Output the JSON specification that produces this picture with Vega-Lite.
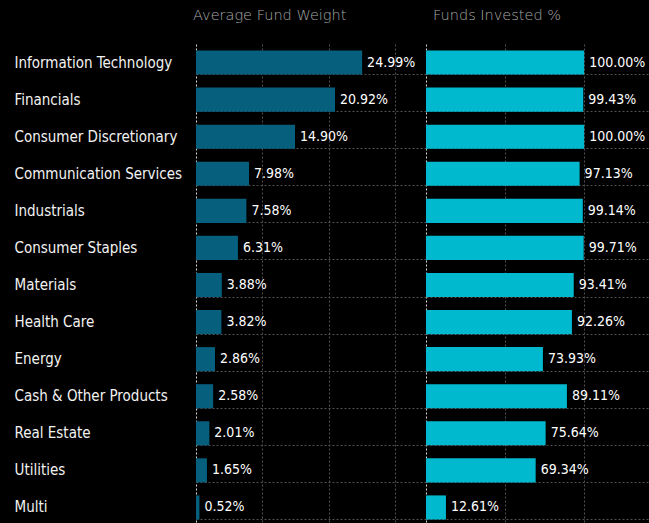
{
  "$schema": "https://vega.github.io/schema/vega-lite/v6.json",
  "background": "#000000",
  "padding": {"left": 14, "top": 7, "right": 0, "bottom": 0},
  "spacing": 0,
  "config": {
    "view": {"stroke": null},
    "font": "DejaVu Sans Condensed",
    "title": {"font": "DejaVu Sans", "fontWeight": 200, "fontSize": 14.5, "color": "#a8a8a8", "anchor": "start", "baseline": "alphabetic", "offset": 21, "frame": "group"}
  },
  "data": {
    "values": [
      {"sector": "Information Technology", "w": 24.99, "f": 100.00},
      {"sector": "Financials", "w": 20.92, "f": 99.43},
      {"sector": "Consumer Discretionary", "w": 14.90, "f": 100.00},
      {"sector": "Communication Services", "w": 7.98, "f": 97.13},
      {"sector": "Industrials", "w": 7.58, "f": 99.14},
      {"sector": "Consumer Staples", "w": 6.31, "f": 99.71},
      {"sector": "Materials", "w": 3.88, "f": 93.41},
      {"sector": "Health Care", "w": 3.82, "f": 92.26},
      {"sector": "Energy", "w": 2.86, "f": 73.93},
      {"sector": "Cash & Other Products", "w": 2.58, "f": 89.11},
      {"sector": "Real Estate", "w": 2.01, "f": 75.64},
      {"sector": "Utilities", "w": 1.65, "f": 69.34},
      {"sector": "Multi", "w": 0.52, "f": 12.61}
    ]
  },
  "transform": [
    {"calculate": "format(datum.w, '.2f') + '%'", "as": "wl"},
    {"calculate": "format(datum.f, '.2f') + '%'", "as": "fl"}
  ],
  "hconcat": [
    {
      "width": 230,
      "height": 482,
      "title": {"text": "Average Fund Weight", "dx": -3},
      "encoding": {
        "y": {
          "field": "sector", "type": "nominal",
          "sort": ["Information Technology", "Financials", "Consumer Discretionary", "Communication Services", "Industrials", "Consumer Staples", "Materials", "Health Care", "Energy", "Cash & Other Products", "Real Estate", "Utilities", "Multi"],
          "scale": {"paddingInner": 0.35, "paddingOuter": 0.175},
          "axis": {"title": null, "labelAlign": "left", "labelPadding": 182, "ticks": false, "tickSize": 0, "domain": false, "labelColor": "#f2f2f2", "labelFontSize": 15, "labelLimit": 220, "grid": true, "gridDash": [2, 2], "gridColor": "#505050", "bandPosition": 1}
        },
        "x": {
          "field": "w", "type": "quantitative",
          "scale": {"domain": [0, 34.6], "nice": false, "zero": true},
          "axis": {"title": null, "labels": false, "ticks": false, "domain": false, "grid": true, "values": [0, 10, 20, 30], "gridDash": [2, 2], "gridColor": {"condition": {"test": "datum.value === 0", "value": "#d8d8d8"}, "value": "#505050"}}
        }
      },
      "layer": [
        {"mark": {"type": "bar", "color": "#075f7e"}},
        {"mark": {"type": "text", "align": "left", "baseline": "middle", "dx": 5, "color": "#ffffff", "fontSize": 14}, "encoding": {"text": {"field": "wl"}}}
      ]
    },
    {
      "width": 223,
      "height": 482,
      "title": {"text": "Funds Invested %", "dx": 7},
      "encoding": {
        "y": {
          "field": "sector", "type": "nominal",
          "sort": ["Information Technology", "Financials", "Consumer Discretionary", "Communication Services", "Industrials", "Consumer Staples", "Materials", "Health Care", "Energy", "Cash & Other Products", "Real Estate", "Utilities", "Multi"],
          "scale": {"paddingInner": 0.35, "paddingOuter": 0.175},
          "axis": {"title": null, "labels": false, "ticks": false, "domain": false, "grid": true, "gridDash": [2, 2], "gridColor": "#505050", "bandPosition": 1}
        },
        "x": {
          "field": "f", "type": "quantitative",
          "scale": {"domain": [0, 141], "nice": false, "zero": true},
          "axis": {"title": null, "labels": false, "ticks": false, "domain": false, "grid": true, "values": [0, 50, 100], "gridDash": [2, 2], "gridColor": {"condition": {"test": "datum.value === 0", "value": "#d8d8d8"}, "value": "#505050"}}
        }
      },
      "layer": [
        {"mark": {"type": "bar", "color": "#00b9cf"}},
        {"mark": {"type": "text", "align": "left", "baseline": "middle", "dx": 5, "color": "#ffffff", "fontSize": 14}, "encoding": {"text": {"field": "fl"}}}
      ]
    }
  ]
}
